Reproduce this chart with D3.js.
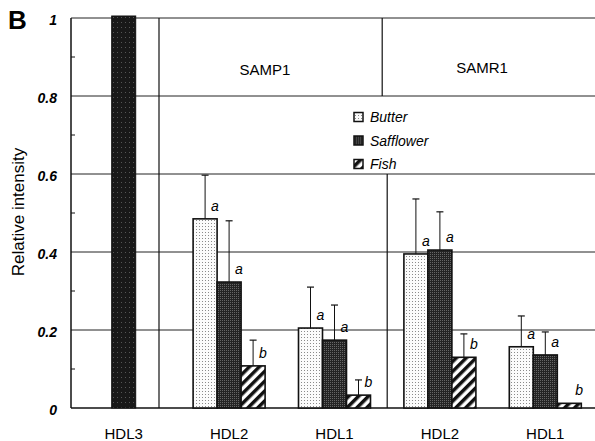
<html lang="en-US">
	<head>
		<title>HDL subfractions</title>
		<script src='https://d3js.org/d3.v7.min.js'></script>
		<style>
			body { margin: 0; background: white; }
			text { font-family: "Liberation Sans", Arial, sans-serif; }
		</style>
  	</head>
	<body>
		<svg id="svgForChart" width=595 height=441></svg>
	<script>
        // chart values
        var groups = ["HDL3", "SAMP1 HDL2", "SAMP1 HDL1", "SAMR1 HDL2", "SAMR1 HDL1"];
        var groupLabels = ["HDL3", "HDL2", "HDL1", "HDL2", "HDL1"];
        var strains = ["SAMP1", "SAMR1"];
        var diets = ["Butter", "Safflower", "Fish"];
        var hdl3Value = [1.0];

        // one value per group after HDL3
        var butterMean = [0.485, 0.205, 0.395, 0.157];
        var butterErr = [0.112, 0.105, 0.141, 0.079];
        var safflowerMean = [0.323, 0.174, 0.405, 0.136];
        var safflowerErr = [0.157, 0.090, 0.098, 0.059];
        var fishMean = [0.108, 0.033, 0.130, 0.012];
        var fishErr = [0.066, 0.039, 0.060, 0];
        var butterLetters = ["a", "a", "a", "a"];
        var safflowerLetters = ["a", "a", "a", "a"];
        var fishLetters = ["b", "b", "b", "b"];

        var yTicks = [0, 0.2, 0.4, 0.6, 0.8, 1];
        var yTickLabels = ["0", "0.2", "0.4", "0.6", "0.8", "1"];
        var yMinorTicks = [0.1, 0.3, 0.5, 0.7, 0.9];

        // plot box (note: "top" is reserved on window, so use plot* names)
        var plotLeft = 71, plotTop = 18, plotBottom = 408, plotRight = 595;
        var yScale = d3.scaleLinear().domain([0, 1]).range([plotBottom, plotTop]);
        var xScale = d3.scaleBand().domain(groups).range([plotLeft, 598]);
        var xDiet = d3.scaleBand().domain(diets).range([0, 72]);
        var groupOffset = (xScale.bandwidth() - 72) / 2;

        var svg = d3.select("#svgForChart");
        var defs = svg.append("defs");

        // fill patterns: stippled light, stippled dark, hatched
        var pButter = defs.append("pattern").attr("id", "pButter")
          .attr("patternUnits", "userSpaceOnUse").attr("width", 3).attr("height", 3);
        pButter.append("rect").attr("width", 3).attr("height", 3).attr("fill", "#fbfbfb");
        pButter.append("rect").attr("x", 1).attr("y", 1).attr("width", 1).attr("height", 1).attr("fill", "#8a8a8a");

        var pSaff = defs.append("pattern").attr("id", "pSaff")
          .attr("patternUnits", "userSpaceOnUse").attr("width", 2).attr("height", 2);
        pSaff.append("rect").attr("width", 2).attr("height", 2).attr("fill", "#242424");
        pSaff.append("rect").attr("width", 1).attr("height", 1).attr("fill", "#666");

        var pFish = defs.append("pattern").attr("id", "pFish")
          .attr("patternUnits", "userSpaceOnUse").attr("width", 7).attr("height", 7)
          .attr("patternTransform", "rotate(45)");
        pFish.append("rect").attr("width", 7).attr("height", 7).attr("fill", "white");
        pFish.append("rect").attr("width", 3.5).attr("height", 7).attr("fill", "#111");

        var pHdl3 = defs.append("pattern").attr("id", "pHdl3")
          .attr("patternUnits", "userSpaceOnUse").attr("width", 4).attr("height", 5);
        pHdl3.append("rect").attr("width", 4).attr("height", 5).attr("fill", "#181818");
        pHdl3.append("rect").attr("x", 1).attr("y", 2).attr("width", 1).attr("height", 1).attr("fill", "#555");

        var fills = { "Butter": "url(#pButter)", "Safflower": "url(#pSaff)", "Fish": "url(#pFish)" };

        // horizontal gridlines
        svg.append("g")
          .selectAll("line")
          .data(yTicks.filter(function(d) { return d > 0; }))
          .enter().append("line")
          .attr("x1", plotLeft).attr("x2", plotRight)
          .attr("y1", function(d) { return yScale(d); })
          .attr("y2", function(d) { return yScale(d); })
          .attr("stroke", "#222").attr("stroke-width", 1);

        // separators: HDL3 | SAMP1 | SAMR1
        svg.append("line").attr("x1", 159).attr("x2", 159)
          .attr("y1", plotTop).attr("y2", plotBottom).attr("stroke", "#111").attr("stroke-width", 1.2);
        var strainSep = xScale(groups[3]) - 1;
        svg.append("line").attr("x1", strainSep - 4).attr("x2", strainSep - 4)
          .attr("y1", plotTop).attr("y2", yScale(0.8)).attr("stroke", "#111").attr("stroke-width", 1.2);
        svg.append("line").attr("x1", strainSep + 1).attr("x2", strainSep + 1)
          .attr("y1", yScale(0.6)).attr("y2", plotBottom).attr("stroke", "#111").attr("stroke-width", 1.2);

        // strain headers
        svg.append("g")
          .selectAll("text")
          .data(strains)
          .enter().append("text")
          .attr("x", function(d, i) { return i == 0 ? 265 : 482; })
          .attr("y", function(d, i) { return i == 0 ? 75 : 73; })
          .attr("text-anchor", "middle")
          .attr("font-size", "15px")
          .text(function(d) { return d; });

        // left axis, bottom axis, minor ticks
        svg.append("line").attr("x1", plotLeft).attr("x2", plotLeft)
          .attr("y1", plotTop).attr("y2", plotBottom).attr("stroke", "#111").attr("stroke-width", 1.5);
        svg.append("line").attr("x1", plotLeft).attr("x2", plotRight)
          .attr("y1", plotBottom).attr("y2", plotBottom).attr("stroke", "#111").attr("stroke-width", 1.5);
        svg.append("g")
          .selectAll("line")
          .data(yMinorTicks)
          .enter().append("line")
          .attr("x1", plotLeft).attr("x2", plotLeft + 4)
          .attr("y1", function(d) { return yScale(d); })
          .attr("y2", function(d) { return yScale(d); })
          .attr("stroke", "#111").attr("stroke-width", 1);

        svg.append("g")
          .selectAll("text")
          .data(yTicks)
          .enter().append("text")
          .attr("x", 57)
          .attr("y", function(d) { return yScale(d) + 2; })
          .attr("dy", "0.35em")
          .attr("text-anchor", "end")
          .attr("font-size", "14px")
          .attr("font-weight", "bold")
          .attr("font-style", "italic")
          .text(function(d, i) { return yTickLabels[i]; });

        // HDL3 bar
        svg.append("g")
          .selectAll("rect")
          .data(hdl3Value)
          .enter().append("rect")
          .attr("x", xScale(groups[0]) + (xScale.bandwidth() - xDiet.bandwidth()) / 2)
          .attr("width", xDiet.bandwidth())
          .attr("y", function(d) { return yScale(d) - 2; })
          .attr("height", function(d) { return plotBottom - yScale(d) + 2; })
          .attr("fill", "url(#pHdl3)")
          .attr("stroke", "#111").attr("stroke-width", 1);

        // diet bars with upper error bars and letters
        var series = [
            { diet: "Butter", mean: butterMean, err: butterErr, letters: butterLetters },
            { diet: "Safflower", mean: safflowerMean, err: safflowerErr, letters: safflowerLetters },
            { diet: "Fish", mean: fishMean, err: fishErr, letters: fishLetters }
        ];
        series.forEach(function(s) {
            var rows = s.mean.map(function(m, i) {
                return { group: groups[i + 1], mean: m, err: s.err[i], letter: s.letters[i] };
            });
            var cx = function(d) { return xScale(d.group) + groupOffset + xDiet(s.diet) + xDiet.bandwidth() / 2; };
            var g = svg.append("g");
            g.selectAll("line.err")
              .data(rows.filter(function(d) { return d.err > 0; }))
              .enter().append("line")
              .attr("x1", cx).attr("x2", cx)
              .attr("y1", function(d) { return yScale(d.mean); })
              .attr("y2", function(d) { return yScale(d.mean + d.err); })
              .attr("stroke", "#111").attr("stroke-width", 1);
            g.selectAll("line.cap")
              .data(rows.filter(function(d) { return d.err > 0; }))
              .enter().append("line")
              .attr("x1", function(d) { return cx(d) - 3.5; })
              .attr("x2", function(d) { return cx(d) + 3.5; })
              .attr("y1", function(d) { return yScale(d.mean + d.err); })
              .attr("y2", function(d) { return yScale(d.mean + d.err); })
              .attr("stroke", "#111").attr("stroke-width", 1.2);
            g.selectAll("rect")
              .data(rows)
              .enter().append("rect")
              .attr("x", function(d) { return xScale(d.group) + groupOffset + xDiet(s.diet); })
              .attr("width", xDiet.bandwidth())
              .attr("y", function(d) { return yScale(d.mean); })
              .attr("height", function(d) { return plotBottom - yScale(d.mean); })
              .attr("fill", fills[s.diet])
              .attr("stroke", "#111").attr("stroke-width", 1.6);
            g.selectAll("text")
              .data(rows)
              .enter().append("text")
              .attr("x", function(d) { return cx(d) + 6; })
              .attr("y", function(d) { return yScale(d.mean) - 8; })
              .attr("font-size", "14px")
              .attr("font-style", "italic")
              .text(function(d) { return d.letter; });
        });

        // legend
        var legend = svg.append("g")
          .selectAll("g")
          .data(diets)
          .enter().append("g")
          .attr("transform", function(d, i) { return "translate(354," + (117 + i * 23.5) + ")"; });
        legend.append("rect")
          .attr("x", 0).attr("y", -4.5).attr("width", 9).attr("height", 9)
          .attr("fill", function(d) { return fills[d]; })
          .attr("stroke", "#111").attr("stroke-width", 1.5);
        legend.append("text")
          .attr("x", 16).attr("y", 5)
          .attr("font-size", "14px")
          .attr("font-style", "italic")
          .text(function(d) { return d; });

        // category labels
        svg.append("g")
          .selectAll("text")
          .data(groups)
          .enter().append("text")
          .attr("x", function(d) { return xScale(d) + xScale.bandwidth() / 2; })
          .attr("y", 439)
          .attr("text-anchor", "middle")
          .attr("font-size", "15px")
          .text(function(d, i) { return groupLabels[i]; });

        // y axis title and panel letter
        svg.append("text")
          .attr("transform", "translate(24, 212) rotate(-90)")
          .attr("text-anchor", "middle")
          .attr("font-size", "17px")
          .text("Relative intensity");
        svg.append("text")
          .attr("x", 8).attr("y", 29)
          .attr("font-size", "26px")
          .attr("font-weight", "bold")
          .text("B");
	</script>
	</body>
</html>
